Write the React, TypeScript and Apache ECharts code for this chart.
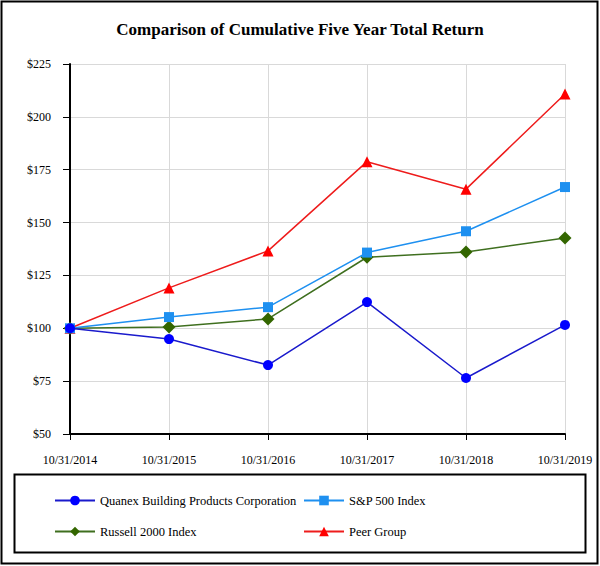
import React, { useEffect, useRef } from "react";
import * as echarts from "echarts";

const categories = ["10/31/2014", "10/31/2015", "10/31/2016", "10/31/2017", "10/31/2018", "10/31/2019"];
const quanex = [100, 94.9, 82.6, 112.4, 76.5, 101.6];
const sp500 = [100, 105.3, 110.0, 135.8, 145.9, 166.8];
const russell = [100, 100.6, 104.4, 133.6, 136.1, 142.7];
const peer = [100, 119.1, 136.6, 178.8, 165.8, 210.8];

const FONT = "'Liberation Serif', 'Times New Roman', serif";

export default function App() {
  const ref = useRef<HTMLDivElement>(null);
  useEffect(() => {
    if (!ref.current) return;
    const chart = echarts.init(ref.current, null, { renderer: "svg" });
    const mk = (name: string, data: number[], color: string, lineColor: string, symbol: string, size: number, z: number) => ({
      name,
      type: "line",
      data,
      symbol,
      symbolSize: size,
      lineStyle: { color: lineColor, width: 1.5 },
      itemStyle: { color },
      z,
    });
    const legendBase = {
      orient: "vertical",
      top: 489,
      itemWidth: 40,
      itemHeight: 12,
      itemGap: 18,
      textStyle: { fontFamily: FONT, fontSize: 12.5, color: "#000" },
    };
    chart.setOption({
      animation: false,
      backgroundColor: "#fff",
      textStyle: { fontFamily: FONT },
      title: {
        text: "Comparison of Cumulative Five Year Total Return",
        left: "center",
        top: 16,
        textStyle: { fontFamily: FONT, fontSize: 17, fontWeight: "bold", color: "#000" },
      },
      graphic: [
        { type: "rect", shape: { x: 1.5, y: 1.5, width: 596, height: 562 }, style: { fill: "none", stroke: "#000", lineWidth: 2 } },
        { type: "rect", shape: { x: 14.5, y: 474.5, width: 571, height: 78 }, style: { fill: "none", stroke: "#000", lineWidth: 2 } },
      ],
      legend: [
        { ...legendBase, left: 49, data: ["Quanex Building Products Corporation", "Russell 2000 Index"] },
        { ...legendBase, left: 298, data: ["S&P 500 Index", "Peer Group"] },
      ],
      grid: { left: 70, right: 35, top: 64, bottom: 132, containLabel: false },
      xAxis: {
        type: "category",
        data: categories,
        boundaryGap: false,
        axisLine: { lineStyle: { color: "#000", width: 2 } },
        axisTick: { show: true, length: 6, lineStyle: { color: "#000" } },
        axisLabel: { fontFamily: FONT, fontSize: 12, color: "#000", margin: 20 },
        splitLine: { show: true, lineStyle: { color: "#d9d9d9", width: 1 } },
      },
      yAxis: {
        type: "value",
        min: 50,
        max: 225,
        interval: 25,
        axisLine: { show: true, lineStyle: { color: "#000", width: 2 } },
        axisTick: { show: true, length: 7, lineStyle: { color: "#000" } },
        axisLabel: { fontFamily: FONT, fontSize: 12, color: "#000", margin: 19, formatter: (v: number) => "$" + v },
        splitLine: { show: true, lineStyle: { color: "#d9d9d9", width: 1 } },
      },
      series: [
        mk("Quanex Building Products Corporation", quanex, "#0000ff", "#1a1acc", "circle", 10, 6),
        mk("S&P 500 Index", sp500, "#1e90f0", "#1e90f0", "rect", 10, 5),
        mk("Russell 2000 Index", russell, "#336600", "#3f6f1f", "diamond", 13, 4),
        mk("Peer Group", peer, "#ff0000", "#ee1c1c", "triangle", 11, 3),
      ],
    });
    return () => chart.dispose();
  }, []);
  return <div ref={ref} style={{ position: "absolute", left: 0, top: 0, width: 600, height: 566 }} />;
}
